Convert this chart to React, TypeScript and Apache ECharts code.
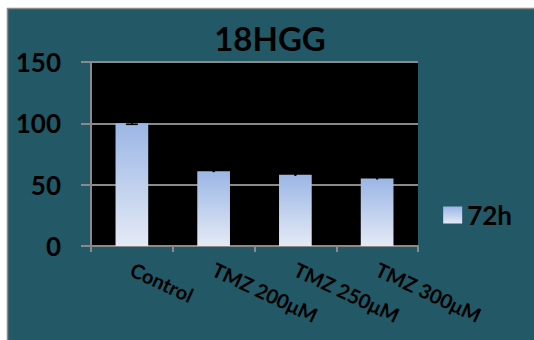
import React, { useEffect, useRef } from "react";
import * as echarts from "echarts";

// Cell viability after 72h of treatment
const categories = ["Control", "TMZ 200μM", "TMZ 250μM", "TMZ 300μM"];
const values72h = [100, 61, 58, 55];
const errors72h = [0.8, 0.2, 0.2, 0.15];
const yTicks = [0, 50, 100, 150];

const FONT = "Lato, 'DejaVu Sans', sans-serif";

export default function App() {
  const ref = useRef<HTMLDivElement>(null);

  useEffect(() => {
    if (!ref.current) return;
    const chart = echarts.init(ref.current, null, { renderer: "svg" });

    const barFill = new echarts.graphic.LinearGradient(0, 0, 0, 1, [
      { offset: 0, color: "#9bb6e5" },
      { offset: 1, color: "#e4eaf6" },
    ]);

    chart.setOption({
      animation: false,
      backgroundColor: "#ffffff",
      graphic: [
        {
          type: "rect",
          z: -10,
          shape: { x: 7.5, y: 8.5, width: 540, height: 340 },
          style: { fill: "#235866", stroke: "#8a8a8a", lineWidth: 1.5 },
        },
      ],
      title: {
        text: "18HGG",
        left: 265,
        top: 16,
        textAlign: "center",
        textStyle: { fontFamily: FONT, fontWeight: "bold", fontSize: 33, color: "#000" },
      },
      legend: {
        right: 17,
        top: 197,
        orient: "vertical",
        icon: "rect",
        itemWidth: 19,
        itemHeight: 17,
        itemGap: 8,
        textStyle: { fontFamily: FONT, fontWeight: "bold", fontSize: 26, color: "#000" },
        data: ["72h"],
      },
      grid: {
        left: 91,
        top: 62,
        right: 116,
        bottom: 94,
        show: true,
        backgroundColor: "#000000",
        borderWidth: 0,
      },
      xAxis: {
        type: "category",
        data: categories,
        boundaryGap: true,
        axisLine: { show: true, lineStyle: { color: "#8a8a8a", width: 2 } },
        axisTick: { show: true, length: 6, lineStyle: { color: "#8a8a8a", width: 2 } },
        axisLabel: {
          rotate: -25,
          margin: 22,
          interval: 0,
          fontFamily: FONT,
          fontWeight: "bold",
          fontSize: 20,
          color: "#000",
        },
      },
      yAxis: {
        type: "value",
        min: yTicks[0],
        max: yTicks[yTicks.length - 1],
        interval: 50,
        axisLine: { show: true, lineStyle: { color: "#8a8a8a", width: 2 } },
        axisTick: { show: true, length: 10, lineStyle: { color: "#8a8a8a", width: 2 } },
        splitLine: { show: true, lineStyle: { color: "#8a8a8a", width: 2 } },
        axisLabel: {
          margin: 30,
          fontFamily: FONT,
          fontWeight: "bold",
          fontSize: 26,
          color: "#000",
        },
      },
      series: [
        {
          name: "72h",
          type: "bar",
          data: values72h,
          barWidth: "40%",
          itemStyle: { color: barFill },
        },
        {
          name: "error",
          type: "custom",
          data: values72h.map((v, i) => [i, v, errors72h[i]]),
          z: 5,
          renderItem: (params: any, api: any) => {
            const x = api.value(0);
            const v = api.value(1);
            const e = api.value(2);
            const hi = api.coord([x, v + e]);
            const lo = api.coord([x, v - e]);
            // caps shrink to a dot when the spread is below a pixel
            const half = Math.abs(lo[1] - hi[1]) >= 1 ? 6 : 1;
            return {
              type: "group",
              children: [
                {
                  type: "line",
                  shape: { x1: hi[0], y1: hi[1], x2: lo[0], y2: lo[1] },
                  style: { stroke: "#000", lineWidth: 1.5 },
                },
                {
                  type: "line",
                  shape: { x1: hi[0] - half, y1: hi[1], x2: hi[0] + half, y2: hi[1] },
                  style: { stroke: "#000", lineWidth: 1.5 },
                },
                {
                  type: "line",
                  shape: { x1: lo[0] - half, y1: lo[1], x2: lo[0] + half, y2: lo[1] },
                  style: { stroke: "#000", lineWidth: 1.5 },
                },
              ],
            };
          },
        },
      ],
    });

    return () => chart.dispose();
  }, []);

  return (
    <div
      ref={ref}
      style={{ position: "fixed", left: 0, top: 0, width: 534, height: 340 }}
    />
  );
}
